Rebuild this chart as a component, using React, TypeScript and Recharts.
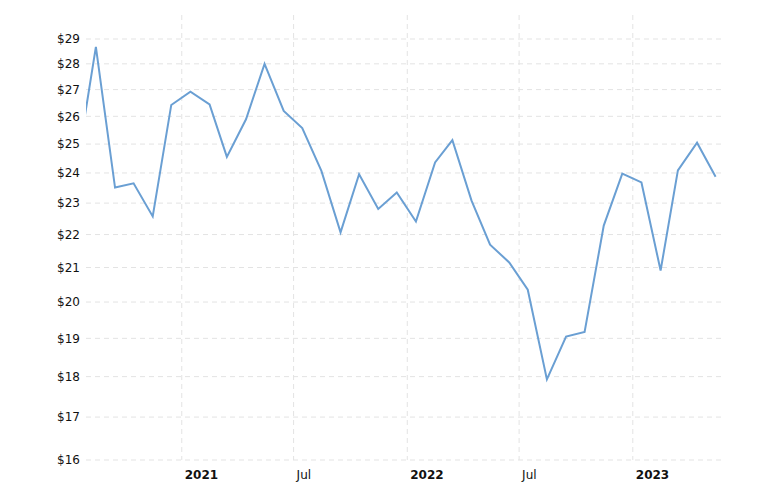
import { LineChart, Line, XAxis, YAxis, CartesianGrid } from 'recharts';

// month-end prices, plotted mid-month
const months = [
  '2020-07', '2020-08', '2020-09', '2020-10', '2020-11', '2020-12',
  '2021-01', '2021-02', '2021-03', '2021-04', '2021-05', '2021-06',
  '2021-07', '2021-08', '2021-09', '2021-10', '2021-11', '2021-12',
  '2022-01', '2022-02', '2022-03', '2022-04', '2022-05', '2022-06',
  '2022-07', '2022-08', '2022-09', '2022-10', '2022-11', '2022-12',
  '2023-01', '2023-02', '2023-03', '2023-04', '2023-05',
];

const prices = [
  24.2, 28.68, 23.51, 23.65, 22.57, 26.42,
  26.92, 26.44, 24.55, 25.89, 28.0, 26.2,
  25.57, 24.07, 22.07, 23.96, 22.81, 23.35,
  22.41, 24.36, 25.14, 23.08, 21.69, 21.15,
  20.35, 17.93, 19.05, 19.17, 22.28, 23.98,
  23.68, 20.91, 24.09, 25.05, 23.87,
];

const priceTicks = [16, 17, 18, 19, 20, 21, 22, 23, 24, 25, 26, 27, 28, 29];

const dateTicks = ['2021-01-01', '2021-07-01', '2022-01-01', '2022-07-01', '2023-01-01'];

const toTime = (s: string, day = 15) => {
  const [y, m] = s.split('-').map(Number);
  return Date.UTC(y, m - 1, day);
};

const data = months.map((m, i) => ({ date: toTime(m), price: prices[i] }));
const xTicks = dateTicks.map((d) => Date.parse(d));
const xDomain = [Date.UTC(2020, 6, 30), Date.UTC(2023, 4, 27)];

const FONT = '"DejaVu Sans", Verdana, sans-serif';

const DateTick = ({ x, y, payload }: any) => {
  const d = new Date(payload.value);
  const isYear = d.getUTCMonth() === 0;
  return (
    <text
      x={x + 3}
      y={y + 10}
      dy="0.71em"
      textAnchor="start"
      fill="#111"
      fontSize={12}
      fontFamily={FONT}
      fontWeight={isYear ? 'bold' : 'normal'}
    >
      {isYear ? String(d.getUTCFullYear()) : 'Jul'}
    </text>
  );
};

export default function App() {
  return (
    <div style={{ position: 'absolute', left: 0, top: 0, width: 768, height: 484, background: '#fff' }}>
      <LineChart
        width={768}
        height={484}
        data={data}
        margin={{ top: 15, right: 45, left: 0, bottom: 0 }}
      >
        <CartesianGrid
          stroke="#e3e3e3"
          strokeDasharray="5 4"
          horizontalValues={priceTicks}
          verticalValues={xTicks}
        />
        <XAxis
          dataKey="date"
          type="number"
          domain={xDomain}
          ticks={xTicks}
          interval={0}
          allowDataOverflow
          axisLine={false}
          tickLine={false}
          tickSize={0}
          tickMargin={0}
          height={24}
          tick={<DateTick />}
        />
        <YAxis
          scale="log"
          domain={[16, 30]}
          ticks={priceTicks}
          interval={0}
          allowDataOverflow
          axisLine={false}
          tickLine={false}
          tickSize={0}
          tickMargin={6}
          width={86}
          tickFormatter={(v: number) => `$${v}`}
          tick={{ fill: '#111', fontSize: 12, fontFamily: FONT }}
        />
        <Line
          type="linear"
          dataKey="price"
          stroke="#6a9fd3"
          strokeWidth={2}
          dot={false}
          isAnimationActive={false}
        />
      </LineChart>
    </div>
  );
}
